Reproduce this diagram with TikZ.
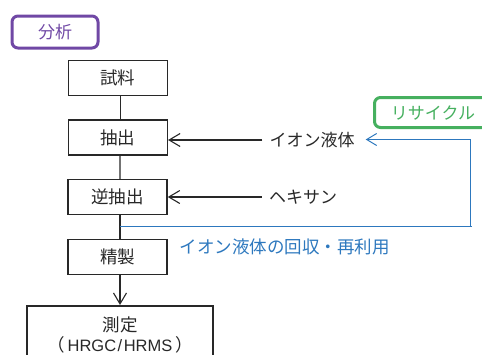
\documentclass[tikz,border=0pt]{standalone}
\usepackage{fontspec}
\setmainfont{Noto Sans CJK JP}
\newfontfamily\latinsans{Liberation Sans}
\usetikzlibrary{arrows.meta}
\definecolor{ink}{RGB}{40,40,40}
\definecolor{purp}{RGB}{112,72,165}
\definecolor{grn}{RGB}{70,176,95}
\definecolor{blu}{RGB}{45,120,190}
\tikzset{
  stepbox/.style={draw=ink,line width=1.5pt,minimum width=99pt,minimum height=35pt,inner sep=0pt,text=ink,font=\fontsize{17.5}{20}\selectfont},
  conn/.style={draw=ink,line width=1.2pt},
  tip/.style={-{Straight Barb[length=11pt,width=13pt,line width=1.1pt]}},
  lbl/.style={text=ink,font=\fontsize{17}{20}\selectfont,inner sep=0pt},
}
\begin{document}
\begin{tikzpicture}[x=1pt,y=-1pt]
\useasboundingbox (0,0) rectangle (482,354);
% tag boxes
\node[draw=purp,line width=3pt,rounded corners=6pt,minimum width=86pt,minimum height=32pt,inner sep=0pt,text=purp,font=\fontsize{17}{20}\selectfont] (ana) at (55,32) {分析};
\draw[grn,line width=3pt,rounded corners=6pt] (374.5,97.5) rectangle (490,127.5);
\node[text=grn,font=\fontsize{17}{20}\selectfont,inner sep=0pt] (rec) at (433,113) {リサイクル};
% process boxes
\node[stepbox] (smp) at (117.8,78) {試料};
\node[stepbox] (ext) at (117.8,137.5) {抽出};
\node[stepbox] (bck) at (117.5,197) {逆抽出};
\node[stepbox] (pur) at (117.5,257) {精製};
\node[draw=ink,line width=1.5pt,minimum width=186pt,minimum height=58pt,inner sep=0pt,text=ink,anchor=north,font=\fontsize{17.5}{21}\selectfont,align=center] (mea) at (120,305) {測定\\[-1pt]（\hspace{3pt}{\latinsans\fontsize{16.5}{21}\selectfont HRGC\hspace{1.5pt}/\hspace{1.5pt}HRMS}\hspace{3pt}）};
% vertical connectors
\draw[conn] ([xshift=2.3pt]smp.south) -- ([xshift=2.3pt]ext.north);
\draw[conn] ([xshift=2.3pt]ext.south) -- ([xshift=2.5pt]bck.north);
\draw[conn] ([xshift=2.5pt]bck.south) -- ([xshift=2.5pt]pur.north);
\draw[conn,tip] ([xshift=2.5pt]pur.south) -- (mea.north);
% side inputs
\node[lbl] (ion) at (312,140) {イオン液体};
\node[lbl] (hex) at (303,197) {ヘキサン};
\draw[conn,tip] ([xshift=-7pt]ion.west) -- (ext.east |- ion.west);
\draw[conn,tip] ([xshift=-7pt]hex.west) -- (bck.east |- hex.west);
% recycle loop
\coordinate (r0) at (120,226.5);
\coordinate (r1) at (472,226.5);
\coordinate (r2) at (470,139.5);
\draw[blu,line width=1pt] (r0) -- (r1);
\draw[blu,line width=1pt,-{Straight Barb[length=10pt,width=12pt,line width=1pt]}] (r2 |- r1) -- (r2) -- ([xshift=11pt]ion.east |- r2);
\node[text=blu,font=\fontsize{17.5}{20}\selectfont,inner sep=0pt] (rtx) at (284.5,247) {イオン液体の回収・再利用};
\end{tikzpicture}
\end{document}
